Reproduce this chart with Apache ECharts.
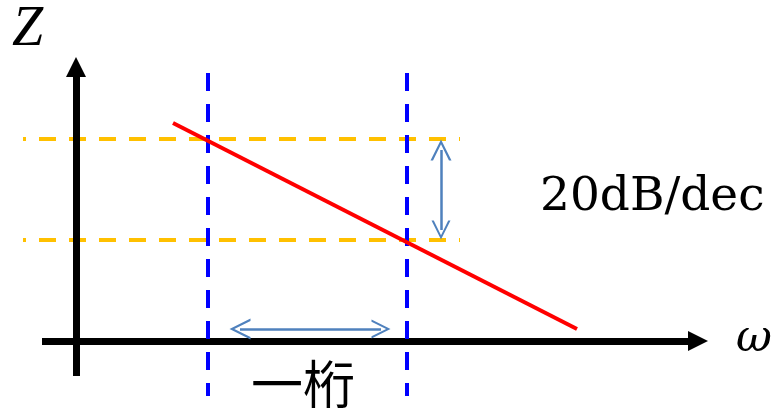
<!DOCTYPE html>
<html>
<head>
<meta charset="utf-8">
<script src="https://cdn.jsdelivr.net/npm/echarts@6/dist/echarts.min.js"></script>
<style>
html, body { margin: 0; padding: 0; background: #fff; }
#main { width: 771px; height: 411px; }
</style>
</head>
<body>
<div id="main"></div>
<script>
// 図の座標（左上が原点、下向きがプラス）
var axisZ = [[76, 376], [76, 67]];
var axisW = [[42, 341], [698, 341]];
var decadeLines = [[[208, 73], [208, 396]], [[407, 73], [407, 396]]];
var levelLines = [[[23, 139], [460, 139]], [[23, 240], [460, 240]]];
var gainLine = [[173, 123], [577, 329]];
var gainArrow = [[441, 150], [441, 230]];
var decadeArrow = [[240, 329], [381, 329]];

// 文字ラベル
var labelZ = 'Z';
var labelW = 'ω';
var labelSlope = '20dB/dec';
var labelDecade = '一桁';

var chart = echarts.init(document.getElementById('main'));

// 細い矢じり（開いた形）
var openHead = 'path://M0,20 L10,0 L20,20 L17.6,20 L10,4.6 L2.4,20 Z';

function toLines(list) {
    return list.map(function (c) { return { coords: c }; });
}

var option = {
    animation: false,
    grid: { left: 0, right: 0, top: 0, bottom: 0 },
    xAxis: { type: 'value', min: 0, max: 771, show: false },
    yAxis: { type: 'value', min: 0, max: 411, inverse: true, show: false },
    series: [
        {
            // 水平の破線（オレンジ）
            type: 'lines',
            coordinateSystem: 'cartesian2d',
            symbol: 'none',
            lineStyle: { color: '#ffc000', width: 4, type: [17, 13], dashOffset: 14, opacity: 1 },
            data: toLines(levelLines)
        },
        {
            // 軸
            type: 'lines',
            coordinateSystem: 'cartesian2d',
            symbol: ['none', 'triangle'],
            symbolSize: [20, 20],
            lineStyle: { color: '#000', width: 7, opacity: 1 },
            data: toLines([axisZ, axisW])
        },
        {
            // 縦の破線（青）
            type: 'lines',
            coordinateSystem: 'cartesian2d',
            symbol: 'none',
            lineStyle: { color: '#0000ff', width: 4, type: [18, 13], opacity: 1 },
            data: toLines(decadeLines)
        },
        {
            // 傾き -20dB/dec の線
            type: 'lines',
            coordinateSystem: 'cartesian2d',
            symbol: 'none',
            lineStyle: { color: '#ff0000', width: 4, opacity: 1 },
            data: toLines([gainLine])
        },
        {
            // 両矢印
            type: 'lines',
            coordinateSystem: 'cartesian2d',
            symbol: [openHead, openHead],
            symbolSize: [21, 19],
            itemStyle: { color: '#4f81bd' },
            lineStyle: { color: '#4f81bd', width: 2.5, opacity: 1 },
            data: toLines([gainArrow, decadeArrow])
        }
    ],
    graphic: [
        {
            type: 'text', left: 12, top: 2,
            style: { text: labelZ, font: 'italic 56px "Liberation Serif"', fill: '#000' }
        },
        {
            type: 'text', left: 736, top: 318,
            style: { text: labelW, font: 'italic 44px "DejaVu Serif"', fill: '#000' }
        },
        {
            type: 'text', left: 540, top: 174,
            style: { text: labelSlope, font: '47px "DejaVu Serif"', fill: '#000' }
        },
        {
            type: 'text', left: 251, top: 358,
            style: { text: labelDecade, font: '52px "Noto Sans CJK JP"', fill: '#000' }
        }
    ]
};

chart.setOption(option);

window.addEventListener('resize', function () {
    chart.resize();
});
</script>
</body>
</html>
